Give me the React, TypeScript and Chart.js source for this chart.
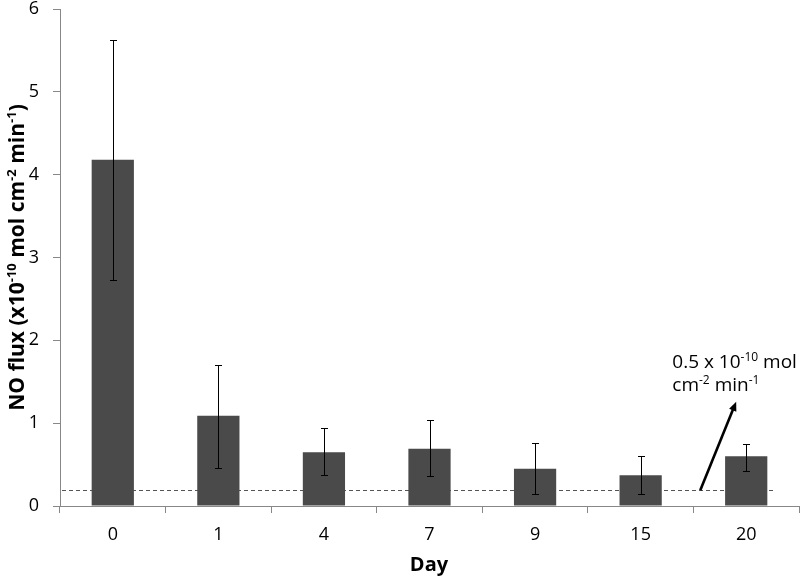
import React, { useEffect, useRef } from 'react';
import { Chart, registerables } from 'chart.js';

Chart.register(...registerables);

// ---- data ----
const days = ['0', '1', '4', '7', '9', '15', '20'];
const meanFlux = [4.18, 1.09, 0.65, 0.69, 0.45, 0.37, 0.6];
const errLow = [2.73, 0.46, 0.37, 0.36, 0.15, 0.15, 0.42];
const errHigh = [5.63, 1.7, 0.94, 1.04, 0.76, 0.6, 0.75];
const yMin = 0;
const yMax = 6;
const yStep = 1;
const thresholdValue = 0.19;
const thresholdEndIndex = 6.28;
// arrow annotation: [category index, value]
const arrowTail = [5.565, 0.19];
const arrowHead = [5.905, 1.26];
const noteAnchor = [5.3, 1.66];

const FONT = '"Open Sans", "DejaVu Sans", sans-serif';

type Part = { t: string; sup?: boolean };

const yTitleParts: Part[] = [
  { t: 'NO flux (x10' },
  { t: '-10', sup: true },
  { t: ' mol cm' },
  { t: '-2', sup: true },
  { t: ' min' },
  { t: '-1', sup: true },
  { t: ')' },
];
const noteLine1: Part[] = [{ t: '0.5 x 10' }, { t: '-10', sup: true }, { t: ' mol' }];
const noteLine2: Part[] = [{ t: 'cm' }, { t: '-2', sup: true }, { t: ' min' }, { t: '-1', sup: true }];

function richWidth(ctx: CanvasRenderingContext2D, parts: Part[], size: number, weight: string) {
  let w = 0;
  for (const p of parts) {
    ctx.font = `${weight} ${p.sup ? Math.round(size * 0.62) : size}px ${FONT}`;
    w += ctx.measureText(p.t).width;
  }
  return w;
}

function drawRich(ctx: CanvasRenderingContext2D, parts: Part[], x: number, y: number, size: number, weight: string) {
  let cx = x;
  ctx.textBaseline = 'alphabetic';
  ctx.textAlign = 'left';
  for (const p of parts) {
    const s = p.sup ? Math.round(size * 0.62) : size;
    ctx.font = `${weight} ${s}px ${FONT}`;
    ctx.fillText(p.t, cx, p.sup ? y - size * 0.38 : y);
    cx += ctx.measureText(p.t).width;
  }
}

const overlayPlugin = {
  id: 'overlay',
  beforeDatasetsDraw(chart: any) {
    const ctx = chart.ctx as CanvasRenderingContext2D;
    const xs = chart.scales.x;
    const ys = chart.scales.y;
    const yy = Math.round(ys.getPixelForValue(thresholdValue)) + 0.5;
    ctx.save();
    ctx.strokeStyle = '#555';
    ctx.lineWidth = 1;
    ctx.setLineDash([4, 3]);
    ctx.beginPath();
    ctx.moveTo(chart.chartArea.left + 2, yy);
    ctx.lineTo(xs.getPixelForValue(thresholdEndIndex), yy);
    ctx.stroke();
    ctx.restore();
  },
  afterDatasetsDraw(chart: any) {
    const ctx = chart.ctx as CanvasRenderingContext2D;
    const xs = chart.scales.x;
    const ys = chart.scales.y;
    ctx.save();
    // error bars
    ctx.strokeStyle = '#000';
    ctx.lineWidth = 1;
    for (let i = 0; i < meanFlux.length; i++) {
      const xp = Math.round(xs.getPixelForValue(i)) + 0.5;
      const y1 = Math.round(ys.getPixelForValue(errLow[i])) + 0.5;
      const y2 = Math.round(ys.getPixelForValue(errHigh[i])) + 0.5;
      ctx.beginPath();
      ctx.moveTo(xp, y1);
      ctx.lineTo(xp, y2);
      ctx.moveTo(xp - 3.5, y1);
      ctx.lineTo(xp + 3.5, y1);
      ctx.moveTo(xp - 3.5, y2);
      ctx.lineTo(xp + 3.5, y2);
      ctx.stroke();
    }
    // arrow
    const tx = xs.getPixelForValue(arrowTail[0]);
    const ty = ys.getPixelForValue(arrowTail[1]);
    const hx = xs.getPixelForValue(arrowHead[0]);
    const hy = ys.getPixelForValue(arrowHead[1]);
    const ang = Math.atan2(hy - ty, hx - tx);
    const headLen = 10;
    const bx = hx - Math.cos(ang) * headLen * 0.8;
    const by = hy - Math.sin(ang) * headLen * 0.8;
    ctx.strokeStyle = '#000';
    ctx.lineWidth = 2.6;
    ctx.beginPath();
    ctx.moveTo(tx, ty);
    ctx.lineTo(bx, by);
    ctx.stroke();
    ctx.fillStyle = '#000';
    ctx.beginPath();
    ctx.moveTo(hx, hy);
    ctx.lineTo(hx - Math.cos(ang - 0.4) * headLen, hy - Math.sin(ang - 0.4) * headLen);
    ctx.lineTo(hx - Math.cos(ang + 0.4) * headLen, hy - Math.sin(ang + 0.4) * headLen);
    ctx.closePath();
    ctx.fill();
    // note text
    const nx = xs.getPixelForValue(noteAnchor[0]);
    const ny = ys.getPixelForValue(noteAnchor[1]);
    ctx.fillStyle = '#000';
    drawRich(ctx, noteLine1, nx, ny, 19, 'normal');
    drawRich(ctx, noteLine2, nx, ny + 23, 19, 'normal');
    ctx.restore();
  },
  afterDraw(chart: any) {
    const ctx = chart.ctx as CanvasRenderingContext2D;
    const area = chart.chartArea;
    ctx.save();
    ctx.fillStyle = '#000';
    // y title
    const w = richWidth(ctx, yTitleParts, 21, 'bold');
    const cy = (area.top + area.bottom) / 2;
    ctx.translate(24, cy);
    ctx.rotate(-Math.PI / 2);
    drawRich(ctx, yTitleParts, -w / 2, 0, 21, 'bold');
    ctx.restore();
    ctx.save();
    ctx.fillStyle = '#000';
    ctx.font = `bold 20px ${FONT}`;
    ctx.textAlign = 'center';
    ctx.textBaseline = 'middle';
    ctx.fillText('Day', 429, 565);
    ctx.restore();
  },
};

export default function App() {
  const ref = useRef<HTMLCanvasElement | null>(null);
  useEffect(() => {
    document.body.style.margin = '0';
    const canvas = ref.current;
    if (!canvas) return;
    const chart = new Chart(canvas, {
      type: 'bar',
      data: {
        labels: days,
        datasets: [
          {
            data: meanFlux,
            backgroundColor: '#4a4a4a',
            borderWidth: 0,
            barPercentage: 0.4,
            categoryPercentage: 1,
          },
        ],
      },
      options: {
        animation: false,
        responsive: true,
        maintainAspectRatio: false,
        layout: { padding: { top: 9, right: 1, left: 0, bottom: 0 } },
        plugins: { legend: { display: false }, tooltip: { enabled: false }, title: { display: false } },
        scales: {
          x: {
            grid: { drawOnChartArea: false, drawTicks: true, tickLength: 7, color: '#888', offset: true },
            border: { color: '#888', width: 1 },
            ticks: { color: '#000', font: { family: FONT, size: 18 }, padding: 11 },
            afterFit: (s: any) => {
              s.height = 72;
              s.paddingLeft = 0;
              s.paddingRight = 0;
            },
          },
          y: {
            min: yMin,
            max: yMax,
            grid: { drawOnChartArea: false, drawTicks: true, tickLength: 7, color: '#888' },
            border: { color: '#888', width: 1 },
            ticks: { stepSize: yStep, color: '#000', font: { family: FONT, size: 18 }, padding: 14 },
            afterFit: (s: any) => {
              s.width = 60;
              s.paddingTop = 0;
              s.paddingBottom = 0;
            },
          },
        },
      },
      plugins: [overlayPlugin],
    });
    return () => chart.destroy();
  }, []);
  return (
    <div style={{ width: 800, height: 578, position: 'relative' }}>
      <canvas ref={ref} />
    </div>
  );
}
